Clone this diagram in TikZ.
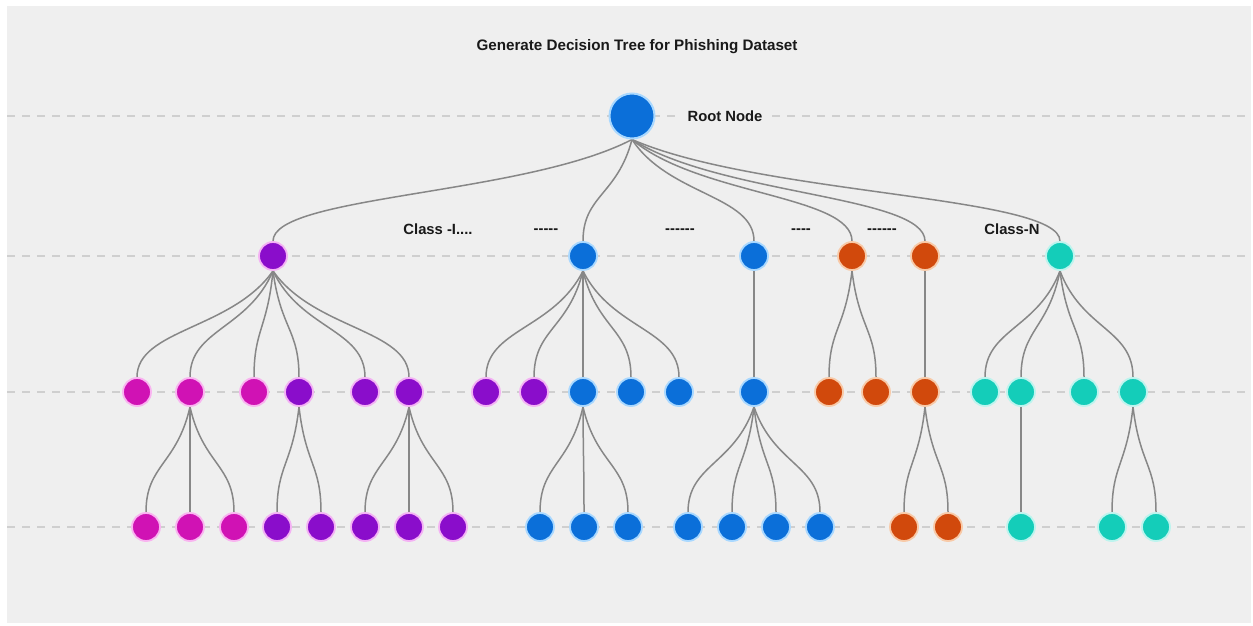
\documentclass[tikz,border=0pt]{standalone}
\usepackage{fontspec}
\setmainfont[Ligatures=TeXOff]{Liberation Sans}
\usetikzlibrary{calc,backgrounds}
\definecolor{bgc}{HTML}{EFEFEF}
\definecolor{cguide}{HTML}{CFCFCF}
\definecolor{cedge}{HTML}{878787}
\definecolor{cblue}{HTML}{0B6FD9}
\definecolor{hblue}{HTML}{A9D8FF}
\definecolor{cpur}{HTML}{8A0DCB}
\definecolor{hpur}{HTML}{F4B2F4}
\definecolor{cmag}{HTML}{D012B4}
\definecolor{hmag}{HTML}{F9B4F0}
\definecolor{cor}{HTML}{D1490C}
\definecolor{hor}{HTML}{F8CAA8}
\definecolor{cteal}{HTML}{14CDB9}
\definecolor{hteal}{HTML}{BDF4EE}
\tikzset{
  x=1pt, y=-1pt,
  dot/.style={circle, inner sep=0pt, minimum size=28pt, line width=1.8pt},
  bigdot/.style={dot, minimum size=45pt, line width=2pt},
  nblue/.style={dot, fill=cblue, draw=hblue},
  npur/.style={dot, fill=cpur, draw=hpur},
  nmag/.style={dot, fill=cmag, draw=hmag},
  nor/.style={dot, fill=cor, draw=hor},
  nteal/.style={dot, fill=cteal, draw=hteal},
  edge/.style={draw=cedge, line width=1.5pt},
  guide/.style={draw=cguide, line width=1.6pt, dash pattern=on 8pt off 7pt},
  lbl/.style={font=\bfseries\fontsize{14.8}{17}\selectfont, text=black!90, inner sep=1pt},
  ttl/.style={font=\bfseries\fontsize{15.2}{18}\selectfont, text=black!90, inner sep=1pt}
}
\newcommand\br[2]{\draw[edge] let \p1=(#1.south), \p2=(#2.north) in
  (\p1) .. controls ({\x1+0.3*(\x2-\x1)},{\y1+0.55*(\y2-\y1)}) and (\x2,{\y2-0.45*(\y2-\y1)}) .. (\p2);}
\begin{document}
\begin{tikzpicture}
\useasboundingbox (0,0) rectangle (1253,626);
% title
\node[ttl] (title) at (637,47) {Generate Decision Tree for Phishing Dataset};
% root
\node[bigdot, fill=cblue, draw=hblue] (r) at (632,116) {};
\node[lbl, fill=bgc, inner xsep=6pt] (rl) at (725,116) {Root Node};
% level 1
\node[npur]  (a1) at (273,256) {};
\node[nblue] (a2) at (583,256) {};
\node[nblue] (a3) at (754,256) {};
\node[nor]   (a4) at (852,256) {};
\node[nor]   (a5) at (925,256) {};
\node[nteal] (a6) at (1060,256) {};
\node[lbl] (l1) at (438,229) {Class -I....};
\node[lbl] (l2) at (546,231) {-{}-{}-{}-{}-};
\node[lbl] (l3) at (680,231) {-{}-{}-{}-{}-{}-};
\node[lbl] (l4) at (801,231) {-{}-{}-{}-};
\node[lbl] (l5) at (882,231) {-{}-{}-{}-{}-{}-};
\node[lbl] (l6) at (1012,229) {Class-N};
% level 2
\node[nmag]  (b1)  at (137,392) {};
\node[nmag]  (b2)  at (190,392) {};
\node[nmag]  (b3)  at (254,392) {};
\node[npur]  (b4)  at (299,392) {};
\node[npur]  (b5)  at (365,392) {};
\node[npur]  (b6)  at (409,392) {};
\node[npur]  (b7)  at (486,392) {};
\node[npur]  (b8)  at (534,392) {};
\node[nblue] (b9)  at (583,392) {};
\node[nblue] (b10) at (631,392) {};
\node[nblue] (b11) at (679,392) {};
\node[nblue] (b12) at (754,392) {};
\node[nor]   (b13) at (829,392) {};
\node[nor]   (b14) at (876,392) {};
\node[nor]   (b15) at (925,392) {};
\node[nteal] (b16) at (985,392) {};
\node[nteal] (b17) at (1021,392) {};
\node[nteal] (b18) at (1084,392) {};
\node[nteal] (b19) at (1133,392) {};
% level 3
\node[nmag]  (c1)  at (146,527) {};
\node[nmag]  (c2)  at (190,527) {};
\node[nmag]  (c3)  at (234,527) {};
\node[npur]  (c4)  at (277,527) {};
\node[npur]  (c5)  at (321,527) {};
\node[npur]  (c6)  at (365,527) {};
\node[npur]  (c7)  at (409,527) {};
\node[npur]  (c8)  at (453,527) {};
\node[nblue] (c9)  at (540,527) {};
\node[nblue] (c10) at (584,527) {};
\node[nblue] (c11) at (628,527) {};
\node[nblue] (c12) at (688,527) {};
\node[nblue] (c13) at (732,527) {};
\node[nblue] (c14) at (776,527) {};
\node[nblue] (c15) at (820,527) {};
\node[nor]   (c16) at (904,527) {};
\node[nor]   (c17) at (948,527) {};
\node[nteal] (c18) at (1021,527) {};
\node[nteal] (c19) at (1112,527) {};
\node[nteal] (c20) at (1156,527) {};
\begin{pgfonlayer}{background}
  \fill[bgc] (7,6) rectangle (1251,623);
  \coordinate (g1a) at (7,116);  \coordinate (g1b) at (1251,116);
  \coordinate (g2a) at (7,256);  \coordinate (g2b) at (1251,256);
  \coordinate (g3a) at (7,392);  \coordinate (g3b) at (1251,392);
  \coordinate (g4a) at (7,527);  \coordinate (g4b) at (1251,527);
  \draw[guide] (g1a) -- (g1b);
  \draw[guide] (g2a) -- (g2b);
  \draw[guide] (g3a) -- (g3b);
  \draw[guide] (g4a) -- (g4b);
  \foreach \k in {a1,a2,a3,a4,a5,a6} {\br{r}{\k}}
  \foreach \k in {b1,b2,b3,b4,b5,b6} {\br{a1}{\k}}
  \foreach \k in {b7,b8,b9,b10,b11} {\br{a2}{\k}}
  \br{a3}{b12}
  \foreach \k in {b13,b14} {\br{a4}{\k}}
  \br{a5}{b15}
  \foreach \k in {b16,b17,b18,b19} {\br{a6}{\k}}
  \foreach \k in {c1,c2,c3} {\br{b2}{\k}}
  \foreach \k in {c4,c5} {\br{b4}{\k}}
  \foreach \k in {c6,c7,c8} {\br{b6}{\k}}
  \foreach \k in {c9,c10,c11} {\br{b9}{\k}}
  \foreach \k in {c12,c13,c14,c15} {\br{b12}{\k}}
  \foreach \k in {c16,c17} {\br{b15}{\k}}
  \br{b17}{c18}
  \foreach \k in {c19,c20} {\br{b19}{\k}}
\end{pgfonlayer}
\end{tikzpicture}
\end{document}
